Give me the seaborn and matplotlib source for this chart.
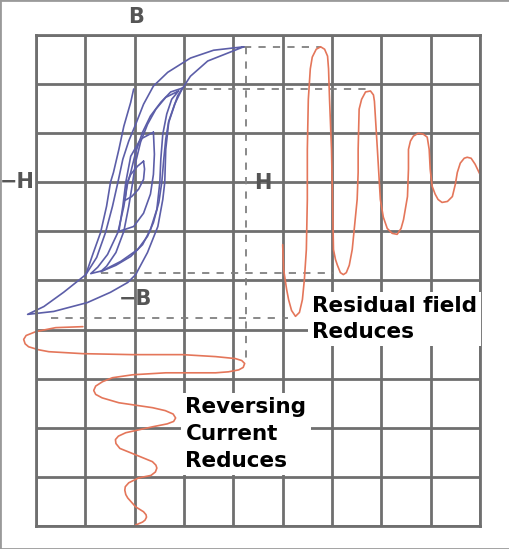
# Hysteresis / demagnetisation diagram
import seaborn as sns
import matplotlib.pyplot as plt
from matplotlib.patches import Rectangle

# grid units: x = H divisions, y = B divisions (origin at axis crossing)
grid_x = list(range(-2, 8))
grid_y = list(range(-7, 4))

# blue hysteresis loops
major_upper = [(2.21, 2.76), (1.60, 2.69), (1.13, 2.53), (0.67, 2.24), (0.38, 1.96), (0.18, 1.59),
               (0.02, 1.18), (-0.12, 0.84), (-0.24, 0.47), (-0.34, 0.0), (-0.45, -0.49), (-0.59, -1.02),
               (-0.77, -1.53), (-0.99, -1.88), (-1.44, -2.24), (-1.84, -2.53), (-2.17, -2.69)]
major_lower = [(-2.17, -2.69), (-1.64, -2.63), (-0.96, -2.45), (-0.49, -2.24), (-0.14, -2.04), (0.02, -1.88),
               (0.26, -1.43), (0.47, -0.90), (0.57, -0.35), (0.61, 0.0), (0.63, 0.67), (0.69, 1.22),
               (0.87, 1.76), (1.13, 2.16), (1.48, 2.47), (2.21, 2.76)]
loop2_upper = [(0.97, 1.92), (0.73, 1.84), (0.53, 1.63), (0.32, 1.35), (0.16, 1.02), (0.02, 0.61),
               (-0.08, 0.20), (-0.14, 0.0), (-0.22, -0.49), (-0.34, -1.02), (-0.55, -1.47), (-0.75, -1.73),
               (-0.89, -1.86)]
loop2_lower = [(-0.89, -1.86), (-0.65, -1.80), (-0.28, -1.61), (0.06, -1.37), (0.26, -1.10), (0.38, -0.82),
               (0.49, -0.41), (0.55, 0.0), (0.59, 0.47), (0.63, 0.88), (0.69, 1.24), (0.81, 1.59), (0.97, 1.92)]
loop2b_upper = [(0.89, 1.86), (0.63, 1.73), (0.43, 1.49), (0.26, 1.18), (0.12, 0.82), (0.02, 0.41),
                (-0.04, 0.0), (-0.12, -0.49), (-0.22, -1.00), (-0.38, -1.43), (-0.57, -1.71), (-0.69, -1.82)]
loop2b_lower = [(-0.69, -1.82), (-0.38, -1.69), (-0.08, -1.51), (0.16, -1.27), (0.32, -0.96), (0.45, -0.55),
                (0.51, 0.0), (0.53, 0.47), (0.57, 0.98), (0.65, 1.39), (0.75, 1.69), (0.89, 1.86)]
loop3_upper = [(0.38, 1.02), (0.12, 0.88), (-0.08, 0.53), (-0.18, 0.0), (-0.24, -0.49), (-0.32, -1.00)]
loop3_lower = [(-0.32, -1.00), (-0.02, -0.90), (0.18, -0.63), (0.32, -0.24), (0.38, 0.16), (0.40, 0.57),
               (0.38, 1.02)]
loop4_upper = [(0.18, 0.43), (0.06, 0.33), (-0.08, 0.16), (-0.16, -0.04), (-0.18, -0.24), (-0.20, -0.37)]
loop4_lower = [(-0.20, -0.37), (-0.06, -0.29), (0.08, -0.14), (0.18, 0.06), (0.20, 0.27), (0.18, 0.43)]
open_branch = [(-0.02, 1.90), (-0.08, 1.63), (-0.22, 1.14), (-0.32, 0.67), (-0.43, 0.20), (-0.49, 0.0),
               (-0.57, -0.49), (-0.69, -1.02), (-0.85, -1.47), (-0.99, -1.88)]

# red decaying field trace (residual field)
residual = [(3.00, -1.27), (3.02, -1.78), (3.08, -2.18), (3.12, -2.39), (3.18, -2.61), (3.26, -2.73),
            (3.34, -2.65), (3.40, -2.39), (3.44, -1.98), (3.48, -1.37), (3.50, -0.35), (3.50, 0.20),
            (3.50, 0.67), (3.52, 1.69), (3.56, 2.31), (3.60, 2.55), (3.68, 2.71), (3.77, 2.76),
            (3.85, 2.71), (3.91, 2.57), (3.93, 2.31), (3.95, 1.69), (3.99, 0.67), (4.01, -0.35),
            (4.03, -1.37), (4.07, -1.57), (4.11, -1.69), (4.17, -1.84), (4.23, -1.88), (4.29, -1.84),
            (4.35, -1.69), (4.41, -1.37), (4.51, -0.35), (4.53, 0.20), (4.53, 0.67), (4.55, 1.49),
            (4.60, 1.69), (4.68, 1.84), (4.78, 1.86), (4.84, 1.78), (4.86, 1.65), (4.92, 0.67),
            (4.98, -0.35), (5.04, -0.71), (5.12, -0.94), (5.22, -1.04), (5.32, -1.06), (5.40, -0.94),
            (5.45, -0.76), (5.53, -0.29), (5.55, 0.27), (5.55, 0.67), (5.59, 0.84), (5.65, 0.94),
            (5.75, 1.00), (5.85, 0.98), (5.93, 0.92), (5.97, 0.67), (5.99, 0.27), (6.03, -0.08),
            (6.09, -0.24), (6.15, -0.35), (6.23, -0.41), (6.34, -0.39), (6.44, -0.29), (6.50, -0.04),
            (6.54, 0.20), (6.60, 0.39), (6.68, 0.49), (6.74, 0.51), (6.82, 0.49), (6.90, 0.37), (7.00, 0.16)]

# red reversing current trace
reversing = [(-1.05, -2.94), (-1.60, -2.96), (-2.00, -3.04), (-2.20, -3.12), (-2.25, -3.20), (-2.22, -3.29),
             (-2.15, -3.35), (-1.95, -3.41), (-1.74, -3.45), (-1.05, -3.49), (-0.04, -3.51), (0.97, -3.51),
             (1.64, -3.55), (2.04, -3.59), (2.17, -3.63), (2.23, -3.69), (2.20, -3.77), (2.11, -3.82),
             (1.90, -3.86), (1.64, -3.88), (0.63, -3.88), (-0.04, -3.92), (-0.45, -3.98), (-0.65, -4.06),
             (-0.79, -4.15), (-0.83, -4.24), (-0.79, -4.32), (-0.66, -4.39), (-0.32, -4.49), (0.36, -4.59),
             (0.62, -4.65), (0.78, -4.72), (0.83, -4.80), (0.79, -4.87), (0.66, -4.92), (0.36, -4.98),
             (-0.18, -5.10), (-0.33, -5.17), (-0.39, -5.24), (-0.38, -5.32), (-0.30, -5.42), (0.02, -5.55),
             (0.36, -5.69), (0.43, -5.76), (0.45, -5.82), (0.42, -5.90), (0.33, -5.97), (0.08, -6.02),
             (-0.12, -6.12), (-0.19, -6.20), (-0.20, -6.27), (-0.18, -6.36), (-0.14, -6.43), (0.02, -6.61),
             (0.18, -6.71), (0.23, -6.77), (0.24, -6.82), (0.21, -6.88), (0.16, -6.92), (0.02, -6.98)]

# dashed guide lines (x0, x1, y) and (x, y0, y1)
guides_h = [(2.21, 3.77, 2.76), (1.03, 4.74, 1.90), (-0.69, 4.03, -1.84), (-1.70, 3.10, -2.76)]
guide_v = (2.25, 2.76, -3.65)

blue = '#5c5ea8'
red = '#e4765a'
grid_col = '#6f6f6f'

sns.set_style('white')
plt.rcParams['font.family'] = ['DejaVu Sans']

fig = plt.figure(figsize=(5.1, 5.49), dpi=100)
ax = fig.add_axes([36 / 510, 1 - 526 / 549, 444 / 510, 491 / 549])
ax.set_xlim(-2, 7)
ax.set_ylim(-7, 3)
ax.set_xticks(grid_x)
ax.set_yticks(grid_y)
ax.tick_params(length=0, labelbottom=False, labelleft=False)
ax.grid(True, color=grid_col, lw=2.0)
for sp in ax.spines.values():
    sp.set_color(grid_col)
    sp.set_linewidth(2.0)

# dashed guides
for x0, x1, y in guides_h:
    ax.plot([x0, x1], [y, y], ls=(0, (4, 4)), color='#808080', lw=1.3)
ax.plot([guide_v[0], guide_v[0]], [guide_v[1], guide_v[2]], ls=(0, (4, 4)), color='#808080', lw=1.3)

# blue loops
loops = [major_upper + major_lower, loop2_upper + loop2_lower, loop2b_upper + loop2b_lower,
         loop3_upper + loop3_lower, loop4_upper + loop4_lower, open_branch]
for pts in loops:
    sns.lineplot(x=[p[0] for p in pts], y=[p[1] for p in pts], sort=False, estimator=None,
                 color=blue, lw=1.2, ax=ax)

# red traces
for pts in [residual, reversing]:
    sns.lineplot(x=[p[0] for p in pts], y=[p[1] for p in pts], sort=False, estimator=None,
                 color=red, lw=1.2, ax=ax)

for ln in ax.lines:
    ln.set_clip_on(False)
    ln.set_solid_joinstyle('round')

# axis labels
lab = dict(fontsize=15, fontweight='bold', color='#555555', ha='center', va='center')
ax.text(0.02, 3.37, 'B', **lab)
ax.text(-2.37, 0.0, '\u2212H', clip_on=False, **lab)
ax.text(2.59, -0.02, 'H', **lab)
ax.text(0.02, -2.37, '\u2212B', **lab)

box = dict(facecolor='white', edgecolor='none', pad=3)
ax.text(3.60, -2.31, 'Residual field\nReduces', fontsize=15.5, fontweight='bold', color='black',
        ha='left', va='top', linespacing=1.4, bbox=box, zorder=5)
ax.text(1.03, -4.37, 'Reversing\nCurrent\nReduces', fontsize=15.5, fontweight='bold', color='black',
        ha='left', va='top', linespacing=1.45, bbox=box, zorder=5)

fig.add_artist(Rectangle((0, 0), 1, 1, transform=fig.transFigure, fill=False,
                         edgecolor='#9a9a9a', lw=2))

plt.savefig('out.png', dpi=100)
